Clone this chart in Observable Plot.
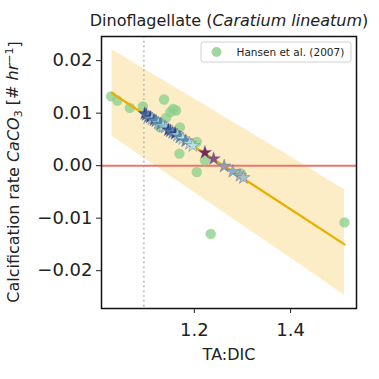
<!DOCTYPE html>
<html>
<head>
<meta charset="utf-8">
<script src="https://cdn.jsdelivr.net/npm/d3@7"></script>
<script src="https://cdn.jsdelivr.net/npm/@observablehq/plot@0.6"></script>
<style>
  html, body { margin: 0; padding: 0; background: #fff; }
  #chart svg { display: block; }
</style>
</head>
<body>
<div id="chart"></div>
<script>
// Hansen et al. (2007) observations
const obsX = [1.027, 1.040, 1.066, 1.093, 1.137, 1.141, 1.150, 1.156, 1.162, 1.128, 1.170, 1.169, 1.205, 1.222, 1.205, 1.234, 1.297, 1.512];
const obsY = [0.0132, 0.0124, 0.0110, 0.0113, 0.0126, 0.0091, 0.0102, 0.0108, 0.0105, 0.0073, 0.0073, 0.0023, 0.0045, 0.0010, -0.0012, -0.0130, -0.0015, -0.0108];

// model stars
const starX = [1.097, 1.100, 1.104, 1.108, 1.112, 1.116, 1.120, 1.125, 1.130, 1.135, 1.140, 1.146, 1.150, 1.155, 1.160, 1.165, 1.170, 1.176, 1.182, 1.190, 1.197, 1.222, 1.240, 1.262, 1.280, 1.295, 1.302];
const starY = [0.0099, 0.0097, 0.0093, 0.0092, 0.0089, 0.0087, 0.0085, 0.0081, 0.0079, 0.0075, 0.0073, 0.0068, 0.0066, 0.0063, 0.0061, 0.0058, 0.0054, 0.0051, 0.0047, 0.0042, 0.0038, 0.0025, 0.0013, -0.0001, -0.0011, -0.0019, -0.0023];
const starColor = ["#2b3a8a", "#3a5ca8", "#4a8fb8", "#2b3a8a", "#8ccbd8", "#3a5ca8", "#4a8fb8", "#8ccbd8", "#4a8fb8", "#b8e0e0", "#8ccbd8", "#2b3a8a", "#3a5ca8", "#4a8fb8", "#2b3a8a", "#8ccbd8", "#4a8fb8", "#b8e0e0", "#4a8fb8", "#a8dce0", "#b8e0e0", "#7a2860", "#8a4e8a", "#9a9aa8", "#8ab0c8", "#a0b0c0", "#a8c0c8"];

// regression fit and prediction band
const fitX = [1.029, 1.2, 1.4, 1.512];
const fitY = [0.0138, 0.0036, -0.0083, -0.0150];
const bandHi = [0.0221, 0.0127, 0.0017, -0.0046];
const bandLo = [0.0056, -0.0051, -0.0176, -0.0247];

const dicRef = 1.095;
const yTicks = [-0.02, -0.01, 0.00, 0.01, 0.02];
const xTicks = [1.2, 1.4];

const obs = obsX.map((x, i) => ({x, y: obsY[i]}));
const stars = starX.map((x, i) => ({x, y: starY[i], c: starColor[i]}));
const fit = fitX.map((x, i) => ({x, y: fitY[i], lo: bandLo[i], hi: bandHi[i]}));

const plot = Plot.plot({
  width: 379,
  height: 379,
  marginLeft: 101,
  marginRight: 23,
  marginTop: 36,
  marginBottom: 71,
  style: {fontFamily: "DejaVu Sans", fontSize: "18px", color: "#222", background: "#fff"},
  x: {domain: [1.007, 1.537]},
  y: {domain: [-0.0272, 0.0246]},
  marks: [
    Plot.areaY(fit, {x: "x", y1: "lo", y2: "hi", fill: "#fdedc6"}),
    Plot.ruleX([dicRef], {stroke: "#b8b8b8", strokeWidth: 1.8, strokeDasharray: "1.6,3.2"}),
    Plot.ruleY([0], {stroke: "#e8786c", strokeWidth: 2}),
    Plot.dot(obs, {x: "x", y: "y", r: 5.2, fill: "#8fd08f", fillOpacity: 0.8, stroke: "none"}),
    Plot.line(fit, {x: "x", y: "y", stroke: "#e8b000", strokeWidth: 2.2}),
    Plot.dot(stars, {x: "x", y: "y", symbol: "star", r: 4.2, fill: "c", stroke: "#6a6a7a", strokeWidth: 0.4}),
    Plot.axisX(xTicks, {tickSize: 5, tickPadding: 10, label: null, fontSize: 18}),
    Plot.axisY(yTicks, {tickSize: 5, tickPadding: 4, tickFormat: d3.format(".2f"), label: null, fontSize: 18}),
    Plot.frame({stroke: "#111", strokeWidth: 1.5})
  ]
});

document.getElementById("chart").appendChild(plot);

const svg = d3.select(plot);
// title
const title = svg.append("text")
  .attr("x", 229).attr("y", 26)
  .attr("text-anchor", "middle")
  .style("font-size", "16px").style("fill", "#222");
title.append("tspan").text("Dinoflagellate (");
title.append("tspan").style("font-style", "italic").text("Caratium lineatum");
title.append("tspan").text(")");

// x label
svg.append("text")
  .attr("x", 229).attr("y", 360)
  .attr("text-anchor", "middle")
  .style("font-size", "16px").style("fill", "#222")
  .text("TA:DIC");

// y label
const yl = svg.append("text")
  .attr("transform", "translate(19,172) rotate(-90)")
  .attr("text-anchor", "middle")
  .style("font-size", "16px").style("fill", "#222");
yl.append("tspan").text("Calcification rate ");
yl.append("tspan").style("font-style", "italic").text("CaCO");
yl.append("tspan").attr("dy", "0.25em").style("font-size", "11px").text("3");
yl.append("tspan").attr("dy", "-0.25em").text(" [# ");
yl.append("tspan").style("font-style", "italic").text("hr");
yl.append("tspan").attr("dy", "-0.45em").style("font-size", "11px").text("−1");
yl.append("tspan").attr("dy", "0.45em").text("]");

// legend
const lg = svg.append("g").attr("transform", "translate(201,42)");
lg.append("rect")
  .attr("x", 0).attr("y", 0).attr("width", 150).attr("height", 20)
  .attr("rx", 2.5).attr("fill", "#fff").attr("fill-opacity", 0.85)
  .attr("stroke", "#d0d0d0").attr("stroke-width", 1);
lg.append("path")
  .attr("transform", "translate(15.5,10)")
  .attr("d", d3.symbol(d3.symbolCircle, Math.PI * 25)())
  .attr("fill", "#8fd08f").attr("fill-opacity", 0.85);
lg.append("text")
  .attr("x", 35.5).attr("y", 10).attr("dy", "0.35em")
  .attr("text-anchor", "start")
  .style("font-size", "10.5px").style("fill", "#222")
  .text("Hansen et al. (2007)");
</script>
</body>
</html>
